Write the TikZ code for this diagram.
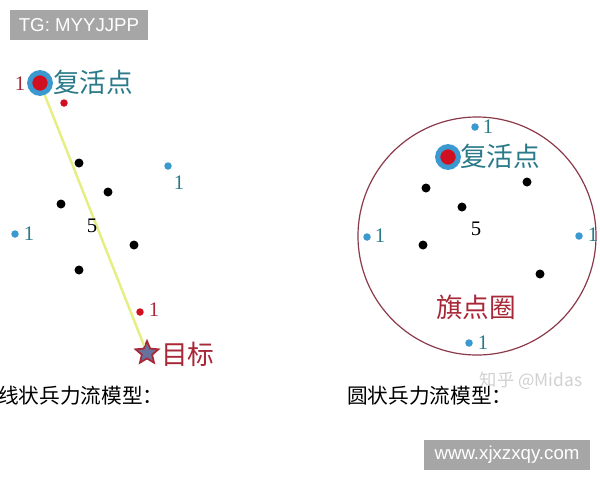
\documentclass[tikz,border=0pt]{standalone}
\usepackage{fontspec}
\setmainfont{Liberation Serif}
\newfontfamily\cjk{Noto Sans CJK SC}
\newfontfamily\lsans{Liberation Sans}
\usetikzlibrary{shapes.geometric}
\definecolor{tealtxt}{HTML}{2A7A8A}
\definecolor{bluedot}{HTML}{3A9AD0}
\definecolor{reddot}{HTML}{D01020}
\definecolor{darkred}{HTML}{A82838}
\definecolor{ringcol}{HTML}{8B3A4A}
\definecolor{greybox}{HTML}{A6A6A6}
\definecolor{yline}{HTML}{E6EE80}
\tikzset{
  blk/.style={circle,fill=black,inner sep=0pt,minimum size=9pt*0.75},
  bdot/.style={circle,fill=bluedot,inner sep=0pt,minimum size=7.5pt*0.75},
  rdot/.style={circle,fill=reddot,inner sep=0pt,minimum size=7.5pt*0.75},
  one/.style={inner sep=0pt,font=\fontsize{15.5}{15.5}\selectfont},
  respawn/.style={circle,fill=reddot,draw=bluedot,line width=3.8pt,inner sep=0pt,minimum size=15.5pt},
  lbl/.style={inner sep=0pt,font=\cjk\fontsize{20}{20}\selectfont},
  captxt/.style={inner sep=0pt,anchor=west,font=\cjk\fontsize{15.5}{15.5}\selectfont},
  wbox/.style={fill=greybox,text=white,inner sep=0pt,font=\lsans\fontsize{14}{14}\selectfont}
}
\begin{document}
\begin{tikzpicture}[x=0.75pt,y=-0.75pt]
\useasboundingbox[fill=white] (0,0) rectangle (600,480);
% grey boxes
\node[wbox,minimum width=138*0.75pt,minimum height=30*0.75pt] (tg) at (79,25) {TG: MYYJJPP};
\node[wbox,minimum width=166*0.75pt,minimum height=30*0.75pt] (www) at (507,455) {www.xjxzxqy.com};
% ===== left model =====
\node[respawn] (rsL) at (40,83) {};
\node[star,star points=5,star point ratio=2.2,fill=bluedot!70!reddot,draw=darkred,line width=1.3pt,inner sep=0pt,minimum size=18pt] (tgt) at (147,353) {};
\draw[yline,line width=1.8pt] (rsL) -- (tgt);
\node[one,text=darkred] (oneRs) at (20,84) {1};
\node[lbl,text=tealtxt,anchor=west] (fhdL) at (53,82) {复活点};
\node[rdot] (r1) at (64,103) {};
\node[blk] (b1) at (79,163) {};
\node[blk] (b2) at (108,192) {};
\node[blk] (b3) at (61,204) {};
\node[blk] (b4) at (134,245) {};
\node[blk] (b5) at (79,270) {};
\node[one] (fiveL) at (92,226) {5};
\node[bdot] (bl1) at (168,166) {};
\node[one,text=tealtxt] (bl1n) at (179,183) {1};
\node[bdot] (bl2) at (15,234) {};
\node[one,text=tealtxt] (bl2n) at (29,234) {1};
\node[rdot] (r2) at (140,312) {};
\node[one,text=darkred] (r2n) at (154,310) {1};
\node[lbl,text=darkred,anchor=west] (mb) at (161,354) {目标};
\node[captxt] (capL) at (-2,396) {线状兵力流模型：};
% ===== right model =====
\draw[ringcol,line width=0.9pt] (477,236) circle (119);
\node[bdot] (t1) at (475,127) {};
\node[one,text=tealtxt] (t1n) at (488,127) {1};
\node[respawn] (rsR) at (448,157) {};
\node[lbl,text=tealtxt,anchor=west] (fhdR) at (460,156) {复活点};
\node[blk] (c1) at (426,188) {};
\node[blk] (c2) at (527,182) {};
\node[blk] (c3) at (462,207) {};
\node[blk] (c4) at (423,245) {};
\node[blk] (c5) at (540,274) {};
\node[one] (fiveR) at (476,229) {5};
\node[bdot] (lf1) at (367,237) {};
\node[one,text=tealtxt] (lf1n) at (380,236) {1};
\node[bdot] (rt1) at (579,236) {};
\node[one,text=tealtxt] (rt1n) at (593,235) {1};
\node[lbl,text=darkred] (qdq) at (476,307) {旗点圈};
\node[bdot] (bt1) at (469,343) {};
\node[one,text=tealtxt] (bt1n) at (483,343) {1};
\node[inner sep=0pt,text=black!18,font=\cjk\fontsize{13}{13}\selectfont] (wm) at (531,381) {知乎 @Midas};
\node[captxt] (capR) at (347,396) {圆状兵力流模型：};
\end{tikzpicture}
\end{document}
